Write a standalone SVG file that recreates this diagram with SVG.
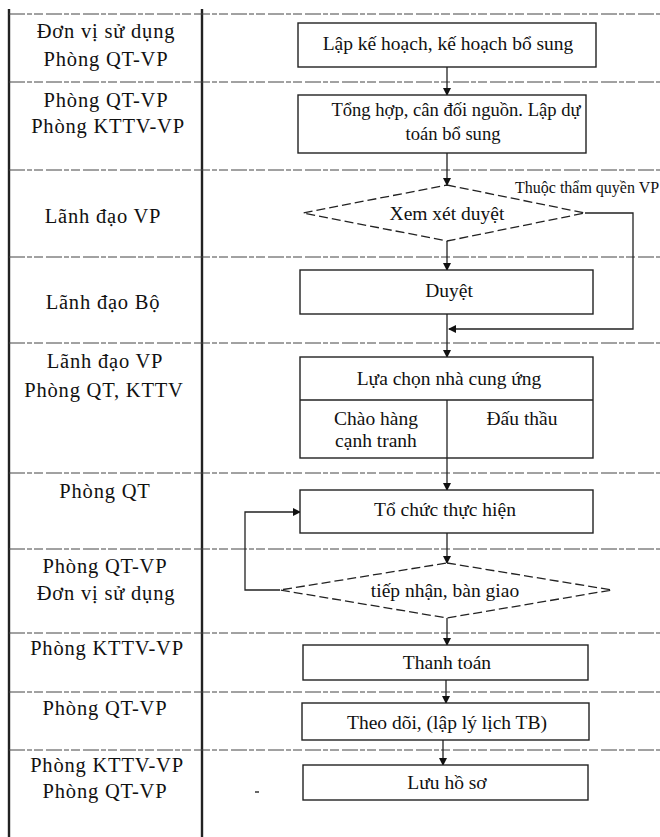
<svg xmlns="http://www.w3.org/2000/svg" width="660" height="837" viewBox="0 0 660 837">
  <style>
    .t { font-family: "Liberation Serif", "Times New Roman", serif; font-size: 19.5px; fill: #111; text-anchor: middle; }
    .lane { font-size: 20.5px; letter-spacing: 0.8px; }
    .small { font-size: 16px; text-anchor: start; }
    .tight { font-size: 18.6px; }
    .box { fill: #fff; stroke: #222; stroke-width: 1.4; }
    .dia { fill: #fff; stroke: #222; stroke-width: 1.3; stroke-dasharray: 9 4; }
    .sep { stroke: #444; stroke-width: 1; stroke-dasharray: 16 2 5 2 9 3; fill: none; }
    .frame { stroke: #222; stroke-width: 2.4; fill: none; }
    .conn { stroke: #222; stroke-width: 1.3; fill: none; }
  </style>
  <defs>
    <marker id="arrow" markerWidth="8" markerHeight="8" refX="7" refY="4" orient="auto" markerUnits="userSpaceOnUse">
      <path d="M0,0 L8,4 L0,8 Z" fill="#111"/>
    </marker>
  </defs>
  <rect width="660" height="837" fill="#fff"/>

  <!-- lane grid -->
  <g id="lanes">
    <line class="frame" x1="9" y1="9" x2="9" y2="837"/>
    <line class="frame" x1="202" y1="9" x2="202" y2="837"/>
    <line class="sep" x1="9" y1="14" x2="660" y2="14"/>
    <line class="sep" x1="9" y1="82" x2="660" y2="82"/>
    <line class="sep" x1="9" y1="170" x2="660" y2="170"/>
    <line class="sep" x1="9" y1="257" x2="660" y2="257"/>
    <line class="sep" x1="9" y1="343" x2="660" y2="343"/>
    <line class="sep" x1="9" y1="473" x2="660" y2="473"/>
    <line class="sep" x1="9" y1="549" x2="660" y2="549"/>
    <line class="sep" x1="9" y1="633" x2="660" y2="633"/>
    <line class="sep" x1="9" y1="692" x2="660" y2="692"/>
    <line class="sep" x1="9" y1="750" x2="660" y2="750"/>
  </g>

  <!-- lane labels -->
  <g id="lane-labels">
    <text class="t lane" x="106" y="38">Đơn vị sử dụng</text>
    <text class="t lane" x="106" y="66">Phòng QT-VP</text>
    <text class="t lane" x="106" y="107">Phòng QT-VP</text>
    <text class="t lane" x="108" y="133">Phòng KTTV-VP</text>
    <text class="t lane" x="103" y="223">Lãnh đạo VP</text>
    <text class="t lane" x="103" y="309">Lãnh đạo Bộ</text>
    <text class="t lane" x="105" y="368">Lãnh đạo VP</text>
    <text class="t lane" x="104" y="397">Phòng QT, KTTV</text>
    <text class="t lane" x="105" y="498">Phòng QT</text>
    <text class="t lane" x="105" y="573">Phòng QT-VP</text>
    <text class="t lane" x="106" y="600">Đơn vị sử dụng</text>
    <text class="t lane" x="107" y="655">Phòng KTTV-VP</text>
    <text class="t lane" x="105" y="715">Phòng QT-VP</text>
    <text class="t lane" x="107" y="772">Phòng KTTV-VP</text>
    <text class="t lane" x="105" y="798">Phòng QT-VP</text>
  </g>

  <!-- connectors -->
  <g id="connectors">
    <path class="conn" d="M447,67 V95" marker-end="url(#arrow)"/>
    <path class="conn" d="M447,153 V185" marker-end="url(#arrow)"/>
    <path class="conn" d="M447,241 V270" marker-end="url(#arrow)"/>
    <path class="conn" d="M585,213 H633 V329 H449" marker-end="url(#arrow)"/>
    <path class="conn" d="M447,314 V357" marker-end="url(#arrow)"/>
    <path class="conn" d="M447,458 V490" marker-end="url(#arrow)"/>
    <path class="conn" d="M447,533 V563" marker-end="url(#arrow)"/>
    <path class="conn" d="M280,590 H245 V512 H300" marker-end="url(#arrow)"/>
    <path class="conn" d="M447,618 V645" marker-end="url(#arrow)"/>
    <path class="conn" d="M446,680 V703" marker-end="url(#arrow)"/>
    <path class="conn" d="M443,740 V765" marker-end="url(#arrow)"/>
    <text class="t small" x="515" y="193">Thuộc thẩm quyền VP</text>
  </g>

  <!-- process steps -->
  <g id="lap-ke-hoach">
    <rect class="box" x="298" y="23" width="298" height="44"/>
    <text class="t" x="448" y="50">Lập kế hoạch, kế hoạch bổ sung</text>
  </g>
  <g id="tong-hop">
    <rect class="box" x="298" y="95" width="288" height="58"/>
    <text class="t tight" x="456" y="116">Tổng hợp, cân đối nguồn. Lập dự</text>
    <text class="t tight" x="453" y="140">toán bổ sung</text>
  </g>
  <g id="xem-xet-duyet">
    <polygon class="dia" points="447,185 585,213 447,241 303,213"/>
    <text class="t" x="447" y="220">Xem xét duyệt</text>
  </g>
  <g id="duyet">
    <rect class="box" x="300" y="270" width="293" height="44"/>
    <text class="t" x="449" y="297">Duyệt</text>
  </g>
  <g id="lua-chon">
    <rect class="box" x="300" y="357" width="293" height="101"/>
    <line class="conn" x1="300" y1="400" x2="593" y2="400"/>
    <line class="conn" x1="447" y1="400" x2="447" y2="458"/>
    <text class="t" x="449" y="385">Lựa chọn nhà cung ứng</text>
    <text class="t" x="376" y="425">Chào hàng</text>
    <text class="t" x="376" y="447">cạnh tranh</text>
    <text class="t" x="522" y="425">Đấu thầu</text>
  </g>
  <g id="to-chuc">
    <rect class="box" x="300" y="490" width="293" height="43"/>
    <text class="t" x="445" y="516">Tổ chức thực hiện</text>
  </g>
  <g id="tiep-nhan">
    <polygon class="dia" points="447,563 612,590 447,618 280,590"/>
    <text class="t" x="445" y="597">tiếp nhận, bàn giao</text>
  </g>
  <g id="thanh-toan">
    <rect class="box" x="303" y="645" width="285" height="35"/>
    <text class="t" x="447" y="669">Thanh toán</text>
  </g>
  <g id="theo-doi">
    <rect class="box" x="302" y="703" width="287" height="37"/>
    <text class="t" x="447" y="729">Theo dõi, (lập lý lịch TB)</text>
  </g>
  <g id="luu-ho-so">
    <rect class="box" x="303" y="765" width="285" height="35"/>
    <text class="t" x="447" y="789">Lưu hồ sơ</text>
  </g>
  <line x1="255" y1="792" x2="259" y2="792" stroke="#333" stroke-width="1.5"/>
</svg>
